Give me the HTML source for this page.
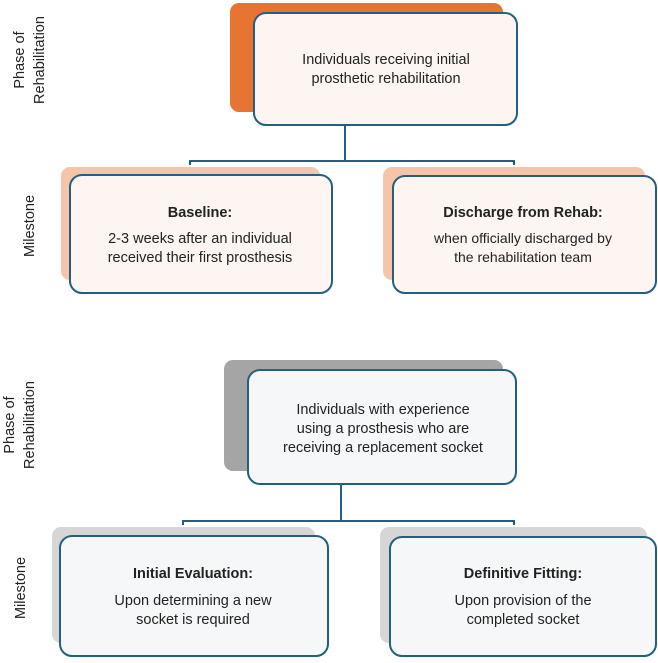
<!DOCTYPE html>
<html><head><style>
html,body{margin:0;padding:0;background:#fff;}
svg text{font-family:"Liberation Sans",sans-serif;fill:#222;}
</style></head><body>
<svg width="658" height="658" viewBox="0 0 658 658" xmlns="http://www.w3.org/2000/svg">
<!-- top -->
<rect x="230" y="3" width="273" height="109" rx="9" fill="#e87434"/>
<rect x="254" y="13" width="263" height="112" rx="12" fill="#fdf5f1" stroke="#23607f" stroke-width="2"/>
<text x="386" y="64" font-size="14.5" text-anchor="middle">Individuals receiving initial</text>
<text x="386" y="83" font-size="14.5" text-anchor="middle">prosthetic rehabilitation</text>
<path d="M345 125 V161 M190 165 V161 H514 V165" stroke="#23607f" stroke-width="2" fill="none"/>
<rect x="61" y="167" width="259" height="113" rx="9" fill="#f6c4a8"/>
<rect x="70" y="175" width="262" height="118" rx="12" fill="#fdf5f1" stroke="#23607f" stroke-width="2"/>
<text x="200" y="217" font-size="14.5" font-weight="bold" text-anchor="middle">Baseline:</text>
<text x="200" y="243" font-size="14.5" text-anchor="middle">2-3 weeks after an individual</text>
<text x="200" y="262" font-size="14.5" text-anchor="middle">received their first prosthesis</text>
<rect x="383" y="167" width="262" height="113" rx="9" fill="#f6c4a8"/>
<rect x="393" y="176" width="263" height="117" rx="12" fill="#fdf5f1" stroke="#23607f" stroke-width="2"/>
<text x="523" y="217" font-size="14.5" font-weight="bold" text-anchor="middle">Discharge from Rehab:</text>
<text x="523" y="243" font-size="14" text-anchor="middle">when officially discharged by</text>
<text x="523" y="262" font-size="14" text-anchor="middle">the rehabilitation team</text>
<text transform="translate(24,60) rotate(-90)" font-size="14.5" text-anchor="middle" fill="#333">Phase of</text>
<text transform="translate(44,60) rotate(-90)" font-size="14.5" text-anchor="middle" fill="#333">Rehabilitation</text>
<text transform="translate(34,226) rotate(-90)" font-size="14.5" text-anchor="middle" fill="#333">Milestone</text>
<!-- bottom -->
<rect x="224" y="360" width="279" height="111" rx="9" fill="#a5a5a5"/>
<rect x="248" y="370" width="268" height="114" rx="12" fill="#f6f7f8" stroke="#23607f" stroke-width="2"/>
<text x="383" y="414" font-size="14.5" text-anchor="middle">Individuals with experience</text>
<text x="383" y="433" font-size="14.5" text-anchor="middle">using a prosthesis who are</text>
<text x="383" y="452" font-size="14.5" text-anchor="middle">receiving a replacement socket</text>
<path d="M341 484 V521 M183 525 V521 H514 V525" stroke="#23607f" stroke-width="2" fill="none"/>
<rect x="52" y="527" width="263" height="116" rx="9" fill="#d6d6d6"/>
<rect x="60" y="536" width="268" height="120" rx="12" fill="#f6f7f8" stroke="#23607f" stroke-width="2"/>
<text x="193" y="578" font-size="14.5" font-weight="bold" text-anchor="middle">Initial Evaluation:</text>
<text x="193" y="605" font-size="14.5" text-anchor="middle">Upon determining a new</text>
<text x="193" y="624" font-size="14.5" text-anchor="middle">socket is required</text>
<rect x="380" y="527" width="267" height="116" rx="9" fill="#d6d6d6"/>
<rect x="390" y="537" width="266" height="119" rx="12" fill="#f6f7f8" stroke="#23607f" stroke-width="2"/>
<text x="523" y="578" font-size="14.5" font-weight="bold" text-anchor="middle">Definitive Fitting:</text>
<text x="523" y="605" font-size="14.5" text-anchor="middle">Upon provision of the</text>
<text x="523" y="624" font-size="14.5" text-anchor="middle">completed socket</text>
<text transform="translate(14,425) rotate(-90)" font-size="14.5" text-anchor="middle" fill="#333">Phase of</text>
<text transform="translate(34,425) rotate(-90)" font-size="14.5" text-anchor="middle" fill="#333">Rehabilitation</text>
<text transform="translate(25,588) rotate(-90)" font-size="14.5" text-anchor="middle" fill="#333">Milestone</text>
</svg>
</body></html>
